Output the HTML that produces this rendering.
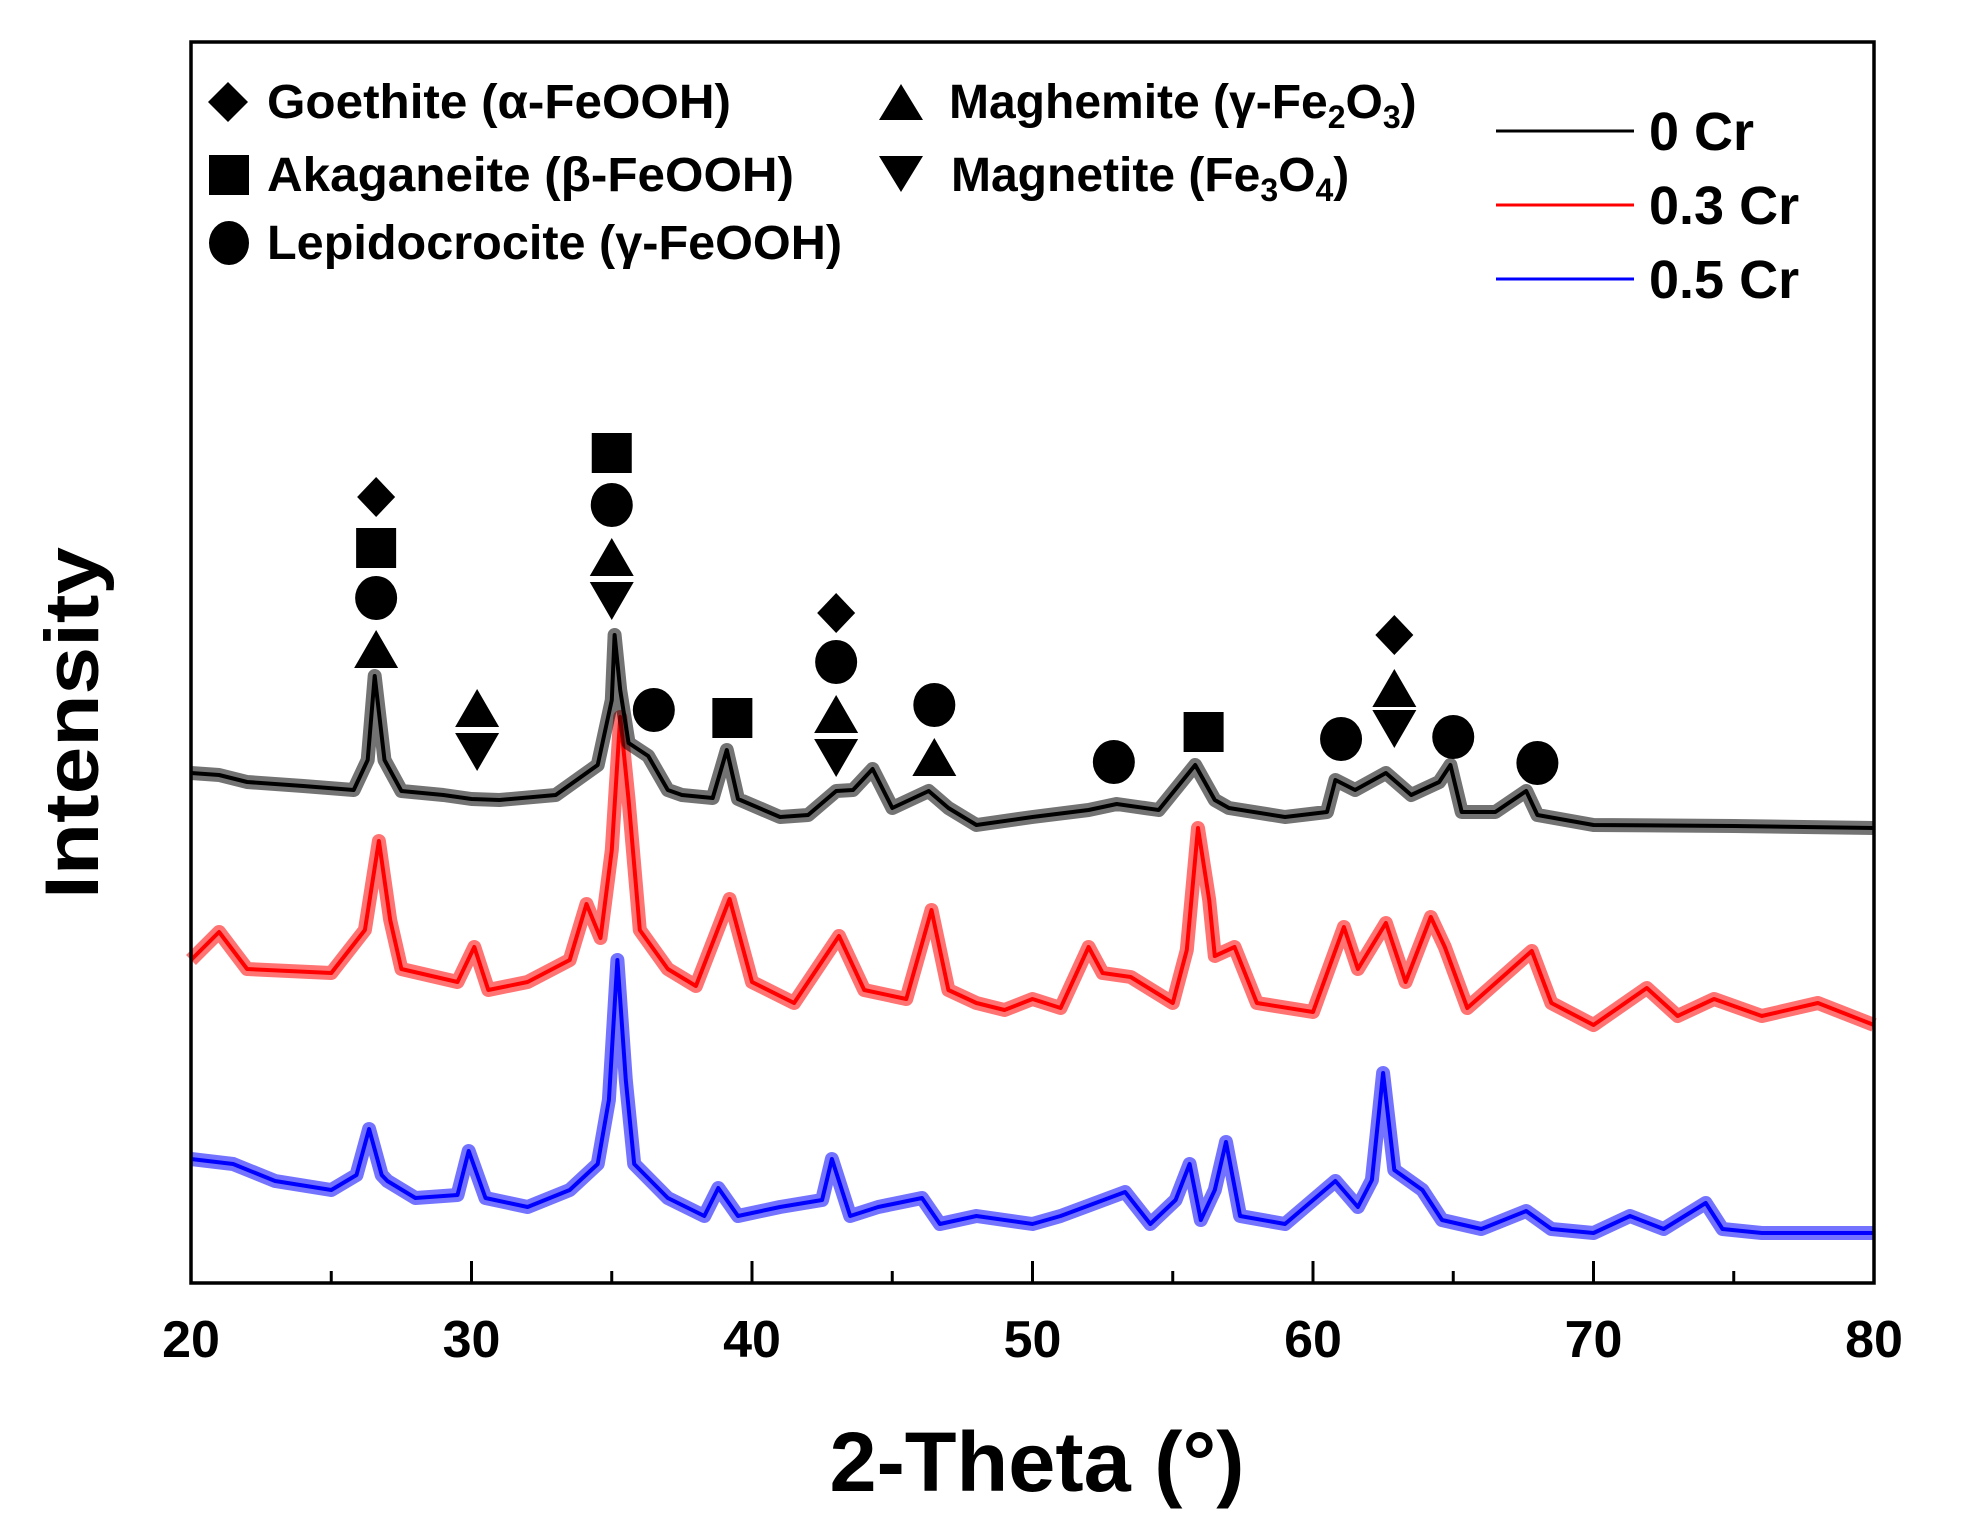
<!DOCTYPE html>
<html><head><meta charset="utf-8"><style>
html,body{margin:0;padding:0;background:#fff;}
svg{display:block;font-family:"Liberation Sans",sans-serif;}
</style></head><body>
<svg id="chart" width="1961" height="1528" viewBox="0 0 1961 1528">
<rect x="0" y="0" width="1961" height="1528" fill="#fff"/>
<g id="series"></g>
<g id="markers"></g>
<rect x="191" y="42" width="1683" height="1241" fill="none" stroke="#000" stroke-width="3.5"/>
<g id="ticks"></g>
<text x="1037" y="1491" font-size="84" font-weight="bold" text-anchor="middle" textLength="415" lengthAdjust="spacingAndGlyphs">2-Theta (°)</text>
<text transform="translate(98,723) rotate(-90)" font-size="76" font-weight="bold" text-anchor="middle" textLength="352" lengthAdjust="spacingAndGlyphs">Intensity</text>
<g>
 <polygon points="228,82 248,102 228,122 208,102" fill="#000"/>
 <text x="267" y="118" font-size="48" font-weight="bold" textLength="464" lengthAdjust="spacingAndGlyphs">Goethite (α-FeOOH)</text>
 <rect x="209" y="155" width="40" height="40" fill="#000"/>
 <text x="267" y="191" font-size="48" font-weight="bold" textLength="527" lengthAdjust="spacingAndGlyphs">Akaganeite (β-FeOOH)</text>
 <ellipse cx="229" cy="243" rx="20" ry="22" fill="#000"/>
 <text x="267" y="259" font-size="48" font-weight="bold" textLength="575" lengthAdjust="spacingAndGlyphs">Lepidocrocite (γ-FeOOH)</text>
 <polygon points="901,84 923,120 879,120" fill="#000"/>
 <text x="949" y="118" font-size="48" font-weight="bold"><tspan>Maghemite (γ-Fe</tspan><tspan font-size="32" dy="10">2</tspan><tspan dy="-10">O</tspan><tspan font-size="32" dy="10">3</tspan><tspan dy="-10">)</tspan></text>
 <polygon points="879,156 923,156 901,192" fill="#000"/>
 <text x="951" y="191" font-size="48" font-weight="bold"><tspan>Magnetite (Fe</tspan><tspan font-size="32" dy="10">3</tspan><tspan dy="-10">O</tspan><tspan font-size="32" dy="10">4</tspan><tspan dy="-10">)</tspan></text>
</g>
<g>
 <line x1="1496" y1="131" x2="1634" y2="131" stroke="#000" stroke-width="3"/>
 <text x="1649" y="150" font-size="54" font-weight="bold">0 Cr</text>
 <line x1="1496" y1="205" x2="1634" y2="205" stroke="#f00" stroke-width="3"/>
 <text x="1649" y="224" font-size="54" font-weight="bold">0.3 Cr</text>
 <line x1="1496" y1="279" x2="1634" y2="279" stroke="#00f" stroke-width="3"/>
 <text x="1649" y="298" font-size="54" font-weight="bold">0.5 Cr</text>
</g>
</svg>
<script>
const xTicks = [20,30,40,50,60,70,80];
const xMinor = [25,35,45,55,65,75];
const blackX = [20,21,22,24,25.8,26.3,26.55,26.9,27.5,29,30,31,33,34.5,35.0,35.1,35.3,35.6,36.3,37,37.5,38.6,39.1,39.5,41,42,43,43.6,44.3,45,46.3,47,48,50,52,53,54.5,55.8,56.5,57,59,60.5,60.8,61.5,62.6,63.5,64.5,64.9,65.3,66.5,67.6,68,70,75,80];
const blackY = [510,508,501,497,493,523,607,523,492,488,484,483,488,518,583,648,593,540,527,493,488,485,533,484,466,468,492,493,514,475,492,475,458,466,473,479,473,518,483,475,466,471,503,493,510,488,501,518,471,471,492,468,458,457,455];
const redX = [20,21,22,25,26.2,26.7,27.1,27.5,29.5,30.1,30.6,32,33.5,34.1,34.6,35.0,35.3,35.6,36,37,38,39.2,40,41.5,43.1,44,45.5,46.4,47,48,49,50,51,52,52.5,53.5,55,55.5,55.9,56.3,56.5,57.2,58,60,61.1,61.6,62.6,63.3,64.2,64.7,65.5,67.8,68.5,70,71.9,73,74.3,76,78,80];
const redY = [323,351,314,310,353,442,363,314,301,336,293,301,323,379,345,433,566,483,353,314,297,384,301,280,347,293,284,373,293,280,273,284,275,336,310,306,280,333,455,383,327,336,280,271,356,314,360,301,366,336,275,332,280,258,295,267,284,267,280,258];
const blueX = [20,21.5,23,25,25.9,26.35,26.8,27,28,29.5,29.9,30.5,32,33.5,34.5,34.9,35.2,35.5,35.8,37,38.3,38.8,39.5,41,42.5,42.85,43.5,44.5,46.06,46.7,48,50,51,53.3,54.2,55.1,55.6,56.0,56.5,56.9,57.4,59,60.8,61.6,62.1,62.5,62.9,63.9,64.6,66,67.6,68.5,70,71.3,72.5,74,74.6,76,80];
const blueY = [124,119,102,93,108,154,108,102,85,88,132,85,76,93,119,183,323,203,119,85,67,95,67,76,83,124,67,76,85,59,67,59,67,91,59,83,119,63,93,141,67,59,102,76,103,210,113,93,63,54,72,54,50,67,54,80,54,50,50];
const markerType = ['diamond','square','circle','up','up','down','square','circle','up','down','circle','square','diamond','circle','up','down','circle','up','circle','square','circle','diamond','up','down','circle','circle'];
const markerX = [26.6,26.6,26.6,26.6,30.2,30.2,35.0,35.0,35.0,35.0,36.5,39.3,43.0,43.0,43.0,43.0,46.5,46.5,52.9,56.1,61.0,62.9,62.9,62.9,65.0,68.0];
const markerY = [786,735,685,634,575,531,830,778,726,682,573,565,670,621,569,525,578,526,521,551,544,648,595,554,546,520];

const NS = 'http://www.w3.org/2000/svg';
const X0=191, X1=1874, Y0=1283, Y1=42;
const xScale = v => X0 + (v-20)/(80-20)*(X1-X0);
const yScale = v => Y0 - v/1241*(Y0-Y1);
const gS = document.getElementById('series');
const gM = document.getElementById('markers');
const gT = document.getElementById('ticks');

function drawSeries(xs, ys, color, name){
  let d = xs.map((x,i)=>(i?'L':'M')+xScale(x).toFixed(1)+','+yScale(ys[i]).toFixed(1)).join(' ');
  const band = document.createElementNS(NS,'path');
  band.setAttribute('d', d);
  band.setAttribute('fill','none');
  band.setAttribute('stroke',color);
  band.setAttribute('stroke-width','14');
  band.setAttribute('stroke-opacity','0.55');
  band.setAttribute('stroke-linejoin','round');
  
  
  gS.appendChild(band);
  const p = document.createElementNS(NS,'path');
  p.setAttribute('d', d);
  p.setAttribute('fill','none');
  p.setAttribute('stroke',color);
  p.setAttribute('stroke-width','4');
  p.setAttribute('stroke-linejoin','round');
  
  
  gS.appendChild(p);
}
drawSeries(blueX, blueY, '#0000ff', 'series-0-5-cr');
drawSeries(redX, redY, '#ff0000', 'series-0-3-cr');
drawSeries(blackX, blackY, '#000000', 'series-0-cr');

markerType.forEach((t,i)=>{
  const cx = xScale(markerX[i]), cy = yScale(markerY[i]);
  let el;
  if(t==='circle'){
    el = document.createElementNS(NS,'ellipse');
    el.setAttribute('cx',cx); el.setAttribute('cy',cy);
    el.setAttribute('rx',21); el.setAttribute('ry',22);
  } else if(t==='square'){
    el = document.createElementNS(NS,'rect');
    el.setAttribute('x',cx-20); el.setAttribute('y',cy-20);
    el.setAttribute('width',40); el.setAttribute('height',40);
  } else {
    el = document.createElementNS(NS,'polygon');
    let pts;
    if(t==='diamond') pts=[[cx,cy-20],[cx+19,cy],[cx,cy+20],[cx-19,cy]];
    else if(t==='up') pts=[[cx,cy-19],[cx+22,cy+19],[cx-22,cy+19]];
    else pts=[[cx-22,cy-19],[cx+22,cy-19],[cx,cy+19]];
    el.setAttribute('points', pts.map(p=>p.join(',')).join(' '));
  }
  el.setAttribute('fill','#000');
  
  
  gM.appendChild(el);
});

xTicks.forEach(v=>{
  const x = xScale(v);
  const l = document.createElementNS(NS,'line');
  l.setAttribute('x1',x); l.setAttribute('x2',x);
  l.setAttribute('y1',Y0); l.setAttribute('y2',Y0-22);
  l.setAttribute('stroke','#000'); l.setAttribute('stroke-width','3');
  
  
  gT.appendChild(l);
  const t = document.createElementNS(NS,'text');
  t.setAttribute('x',x); t.setAttribute('y',1357);
  t.setAttribute('font-size','52'); t.setAttribute('font-weight','bold');
  t.setAttribute('text-anchor','middle');
  t.textContent = v;
  
  
  gT.appendChild(t);
});
xMinor.forEach(v=>{
  const x = xScale(v);
  const l = document.createElementNS(NS,'line');
  l.setAttribute('x1',x); l.setAttribute('x2',x);
  l.setAttribute('y1',Y0); l.setAttribute('y2',Y0-12);
  l.setAttribute('stroke','#000'); l.setAttribute('stroke-width','3');
  
  
  gT.appendChild(l);
});
</script>
</body></html>
